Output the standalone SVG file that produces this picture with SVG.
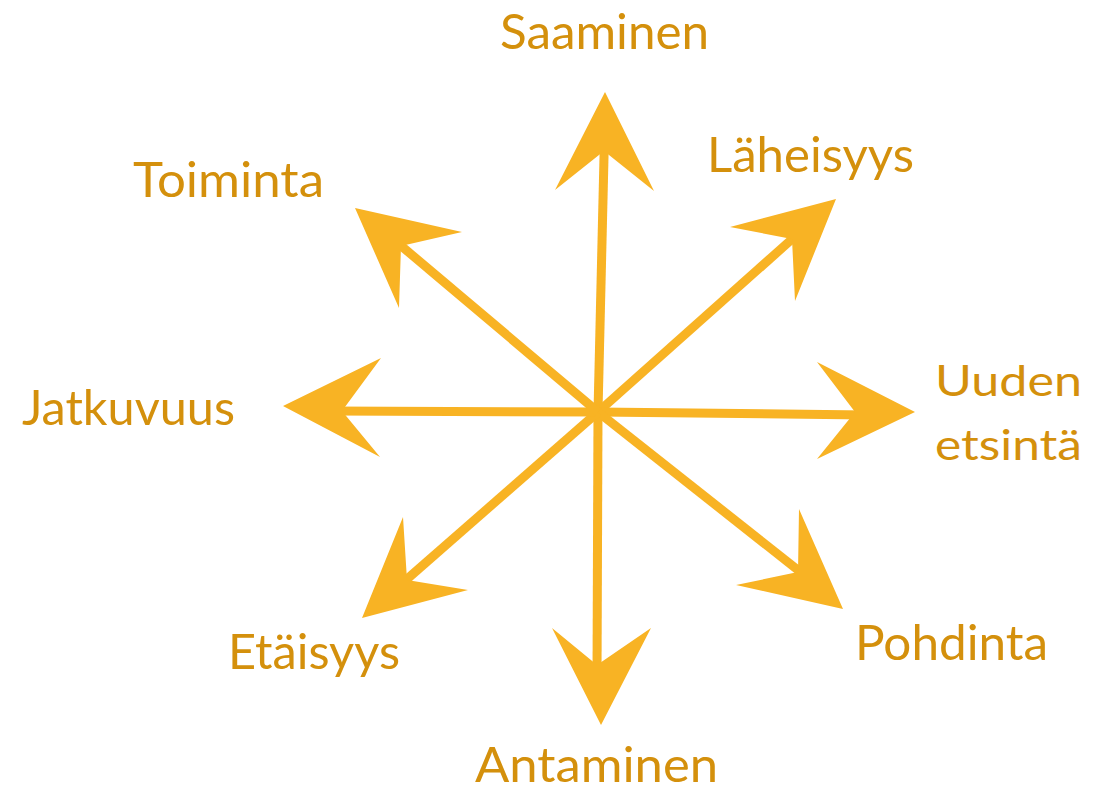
<svg xmlns="http://www.w3.org/2000/svg" width="1106" height="790" viewBox="0 0 1106 790">
<style>
.lbl{font-family:Lato,"Open Sans","Liberation Sans",sans-serif;fill:#D4900C;font-size:48px}
.sm{font-size:43px}
.shaft{stroke:#F8B324;stroke-width:9;fill:none}
.head{fill:#F8B324}
</style>
<rect width="1106" height="790" fill="#FFFFFF"/>
<g id="connectors">
<line class="shaft" x1="598" y1="412" x2="604.4" y2="140"/>
<line class="shaft" x1="598" y1="412" x2="800" y2="232"/>
<line class="shaft" x1="598" y1="412" x2="867" y2="415"/>
<line class="shaft" x1="598" y1="412" x2="808" y2="578"/>
<line class="shaft" x1="598" y1="412" x2="597" y2="677"/>
<line class="shaft" x1="598" y1="412" x2="398" y2="587"/>
<line class="shaft" x1="598" y1="412" x2="330" y2="411"/>
<line class="shaft" x1="598" y1="412" x2="393" y2="239"/>
<polygon class="head" points="605,92 654,191 604,151 555,190"/>
<polygon class="head" points="836,199 795,301 792,239 730,227"/>
<polygon class="head" points="915,412 817,459 855,412 817,362"/>
<polygon class="head" points="843,609 736,585 798,572 799,509"/>
<polygon class="head" points="601,725 552,628 597,665 651,628"/>
<polygon class="head" points="362,618 403,517 407,580 468,590"/>
<polygon class="head" points="283,406 381,358 342,411 380,457"/>
<polygon class="head" points="355,208 462,232 401,246 399,308"/>
</g>
<g id="saaminen"><text class="lbl" x="500" y="49" textLength="209" lengthAdjust="spacingAndGlyphs">Saaminen</text></g>
<g id="laheisyys"><text class="lbl" x="707" y="172" textLength="207" lengthAdjust="spacingAndGlyphs">Läheisyys</text></g>
<g id="uuden-etsinta"><text class="lbl sm" x="935" y="396" textLength="147" lengthAdjust="spacingAndGlyphs">Uuden</text><text class="lbl sm" x="935" y="460" textLength="147" lengthAdjust="spacingAndGlyphs">etsintä</text></g>
<g id="pohdinta"><text class="lbl" x="855" y="660" textLength="193" lengthAdjust="spacingAndGlyphs">Pohdinta</text></g>
<g id="antaminen"><text class="lbl" x="475" y="782" textLength="243" lengthAdjust="spacingAndGlyphs">Antaminen</text></g>
<g id="etaisyys"><text class="lbl" x="228" y="669" textLength="172" lengthAdjust="spacingAndGlyphs">Etäisyys</text></g>
<g id="jatkuvuus"><text class="lbl" x="22" y="425" textLength="213" lengthAdjust="spacingAndGlyphs">Jatkuvuus</text></g>
<g id="toiminta"><text class="lbl" x="133" y="197" textLength="191" lengthAdjust="spacingAndGlyphs">Toiminta</text></g>
</svg>
